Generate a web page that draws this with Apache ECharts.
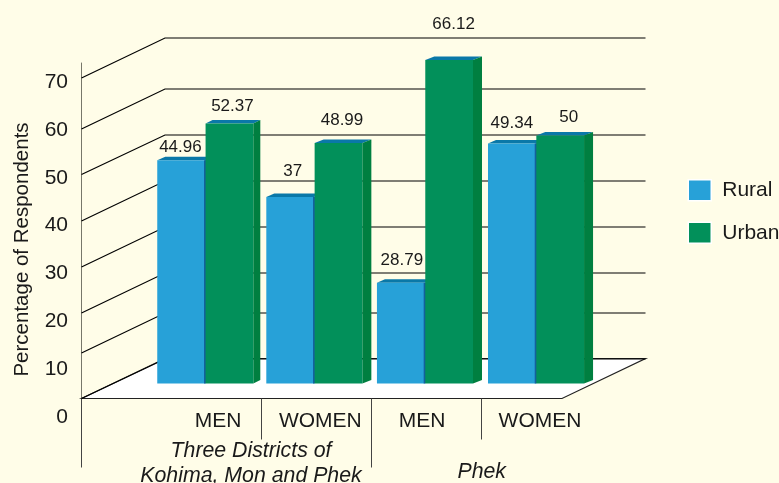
<!DOCTYPE html>
<html><head><meta charset="utf-8">
<style>html,body{margin:0;padding:0;background:#fffde8}#c{width:779px;height:483px}</style>
<script src="https://cdn.jsdelivr.net/npm/echarts@6/dist/echarts.min.js"></script>
</head><body><div id="c"></div>
<script>
var groups = ['MEN', 'WOMEN', 'MEN', 'WOMEN'];
var ruralLabels = ['44.96', '37', '28.79', '49.34'];
var urbanLabels = ['52.37', '48.99', '66.12', '50'];
// heights as actually drawn in the picture (the 28.79 bar is drawn much shorter than its label)
var ruralHeights = [45.0, 37.6, 20.3, 48.4];
var urbanHeights = [52.4, 48.5, 65.2, 50.0];
// levels of the back-wall lines
var wallLevels = [0, 9.94, 18.68, 28.74, 38.79, 48.95, 58.89, 70.04];
var tickLabels = [0, 10, 20, 30, 40, 50, 60, 70];
var font = '"Liberation Sans", Arial, sans-serif';
var ink = '#1a1a1a';
var ruralLift = [13.3, 26, 22, 20.5], urbanLift = [17, 23, 36, 18.5];
var ruralShift = [-0.7, 2.5, 1, 0], urbanShift = [3, 3.5, 4.5, 8.5];
var labelNudge = [25, 9, -8, 7];
var groupNudge = [-0.5, -1.8, -1.5, -0.8];
var sideDepth = [7, 9, 9, 9];

function barRenderer(kind, labels, lifts, shifts) {
  return function (params, api) {
    var i = api.value(0);
    var c = api.coord([i, api.value(1)]);
    var base = api.coord([i, 0]);
    var w = api.size([1, 0])[0] * 0.4325;
    var cx = c[0] + groupNudge[i];
    var x = kind === 'rural' ? cx - w : cx + 0.6;
    var top = c[1], bot = base[1];
    var dx = kind === 'rural' ? 8 : sideDepth[i], dy = 3.5;
    var kids = [
      { type: 'polygon', shape: { points: [[x, top], [x + dx, top - dy], [x + w + dx, top - dy], [x + w, top]] }, style: { fill: '#0a78a8' } },
      { type: 'polygon', shape: { points: [[x + w, top], [x + w + dx, top - dy], [x + w + dx, bot - dy], [x + w, bot]] }, style: { fill: kind === 'rural' ? '#14609c' : '#007f40' } },
      { type: 'rect', shape: { x: x, y: top, width: w, height: bot - top }, style: { fill: kind === 'rural' ? '#27a1d8' : '#02905a' } }
    ];
    if (kind === 'rural') kids.push({ type: 'rect', shape: { x: x + w - 1, y: top, width: 1.6, height: bot - top }, style: { fill: '#14609c' } });
    kids.push({ type: 'text', z2: 20, style: { text: labels[i], x: x + w / 2 + shifts[i], y: top - lifts[i], align: 'center', verticalAlign: 'middle', font: '17px ' + font, fill: ink } });
    return { type: 'group', children: kids };
  };
}

var option = {
  backgroundColor: '#fffde8',
  animation: false,
  textStyle: { fontFamily: font },
  legend: {
    orient: 'vertical', left: 687.5, top: 179, padding: 0,
    itemWidth: 23, itemHeight: 21, itemGap: 20, icon: 'rect',
    data: [
      { name: 'Rural', itemStyle: { color: '#27a1d8', borderColor: '#ffffff', borderWidth: 1.5 } },
      { name: 'Urban', itemStyle: { color: '#02905a', borderColor: '#ffffff', borderWidth: 1.5 } }
    ],
    textStyle: { fontFamily: font, fontSize: 21, color: ink, padding: [0, 0, 0, 6] }
  },
  grid: [
    { left: 81, width: 1, top: 82, height: 335 },
    { left: 81.5, width: 480.5, top: 63, height: 335.5 },
    { left: 150.3, width: 441.4, top: 36.3, height: 347.2 }
  ],
  xAxis: [
    { gridIndex: 0, type: 'value', show: false, min: 0, max: 1 },
    { gridIndex: 1, type: 'value', show: false, min: 0, max: 1 },
    {
      gridIndex: 2, type: 'category', data: groups, offset: 15,
      axisLine: { show: false }, axisTick: { show: false },
      axisLabel: {
        interval: 0, margin: 12,
        formatter: function (v, i) { return '{c' + i + '|' + v + '}'; },
        rich: (function () {
          var r = {};
          labelNudge.forEach(function (n, i) {
            r['c' + i] = { fontFamily: font, fontSize: 21, color: ink, padding: n > 0 ? [0, 0, 0, n] : [0, -n, 0, 0] };
          });
          return r;
        })()
      }
    }
  ],
  yAxis: [
    {
      gridIndex: 0, type: 'value', min: 0, max: 70, interval: 10,
      name: 'Percentage of Respondents', nameLocation: 'middle', nameGap: 48,
      nameTextStyle: { fontFamily: font, fontSize: 20.5, color: ink },
      axisLine: { show: false }, axisTick: { show: false }, splitLine: { show: false },
      axisLabel: { margin: 13, fontFamily: font, fontSize: 21, color: ink }
    },
    {
      gridIndex: 1, type: 'value', min: 0, max: 73.32,
      axisLine: { show: true, lineStyle: { color: '#77776a', width: 1 } },
      axisTick: { show: false }, splitLine: { show: false }, axisLabel: { show: false }
    },
    { gridIndex: 2, type: 'value', min: 0, max: 70, show: false, splitLine: { show: false } }
  ],
  graphic: [
    { type: 'text', z: 50, x: 251, y: 450.7, style: { text: 'Three Districts of', align: 'center', verticalAlign: 'middle', font: 'italic 21.3px ' + font, fill: ink } },
    { type: 'text', z: 50, x: 251, y: 476, style: { text: 'Kohima, Mon and Phek', align: 'center', verticalAlign: 'middle', font: 'italic 21.3px ' + font, fill: ink } },
    { type: 'text', z: 50, x: 481.7, y: 472, style: { text: 'Phek', align: 'center', verticalAlign: 'middle', font: 'italic 21.3px ' + font, fill: ink } }
  ],
  series: [
    {
      name: 'Floor', type: 'custom', xAxisIndex: 1, yAxisIndex: 1, z: 1, silent: true,
      data: [[0, 0]],
      renderItem: function (p, api) {
        var a = api.coord([0, 0]), b = api.coord([1, 0]);
        return {
          type: 'group', children: [
            { type: 'polygon', shape: { points: [[a[0], a[1]], [a[0] + 83.5, a[1] - 40], [b[0] + 83.5, a[1] - 40], [b[0], a[1]]] }, style: { fill: '#ffffff', stroke: '#222', lineWidth: 1.2 } },
            { type: 'line', shape: { x1: a[0], y1: a[1], x2: a[0], y2: a[1] + 69 }, style: { stroke: '#444', lineWidth: 1 } }
          ]
        };
      }
    },
    {
      name: 'Wall', type: 'custom', xAxisIndex: 1, yAxisIndex: 1, z: 1, silent: true,
      data: wallLevels.map(function (l) { return [0, l]; }),
      renderItem: function (p, api) {
        var lv = api.value(1);
        var a = api.coord([0, lv]), b = api.coord([1, lv]);
        var yb = Math.round(a[1] - 40) + 0;
        return {
          type: 'polyline',
          shape: { points: [[a[0], a[1]], [a[0] + 83.5, yb], [b[0] + 83.5, yb]] },
          style: { stroke: '#000', lineWidth: 1.2, fill: null }
        };
      }
    },
    {
      name: 'Separators', type: 'custom', xAxisIndex: 2, yAxisIndex: 2, z: 2, silent: true,
      data: [[0, 0, 41], [1, 0, 69], [2, 0, 41]],
      renderItem: function (p, api) {
        var a = api.coord([api.value(0), 0]);
        var x = Math.round(a[0] + api.size([1, 0])[0] / 2) + 0.5;
        return { type: 'line', shape: { x1: x, y1: a[1] + 15, x2: x, y2: a[1] + 15 + api.value(2) }, style: { stroke: '#444', lineWidth: 1 } };
      }
    },
    {
      name: 'Rural', type: 'custom', xAxisIndex: 2, yAxisIndex: 2, z: 3,
      itemStyle: { color: '#27a1d8' },
      data: ruralHeights.map(function (v, i) { return [i, v]; }),
      encode: { x: 0, y: 1 },
      renderItem: barRenderer('rural', ruralLabels, ruralLift, ruralShift)
    },
    {
      name: 'Urban', type: 'custom', xAxisIndex: 2, yAxisIndex: 2, z: 4,
      itemStyle: { color: '#02905a' },
      data: urbanHeights.map(function (v, i) { return [i, v]; }),
      encode: { x: 0, y: 1 },
      renderItem: barRenderer('urban', urbanLabels, urbanLift, urbanShift)
    }
  ]
};
echarts.init(document.getElementById('c'), null, { renderer: 'canvas' }).setOption(option);
</script></body></html>
